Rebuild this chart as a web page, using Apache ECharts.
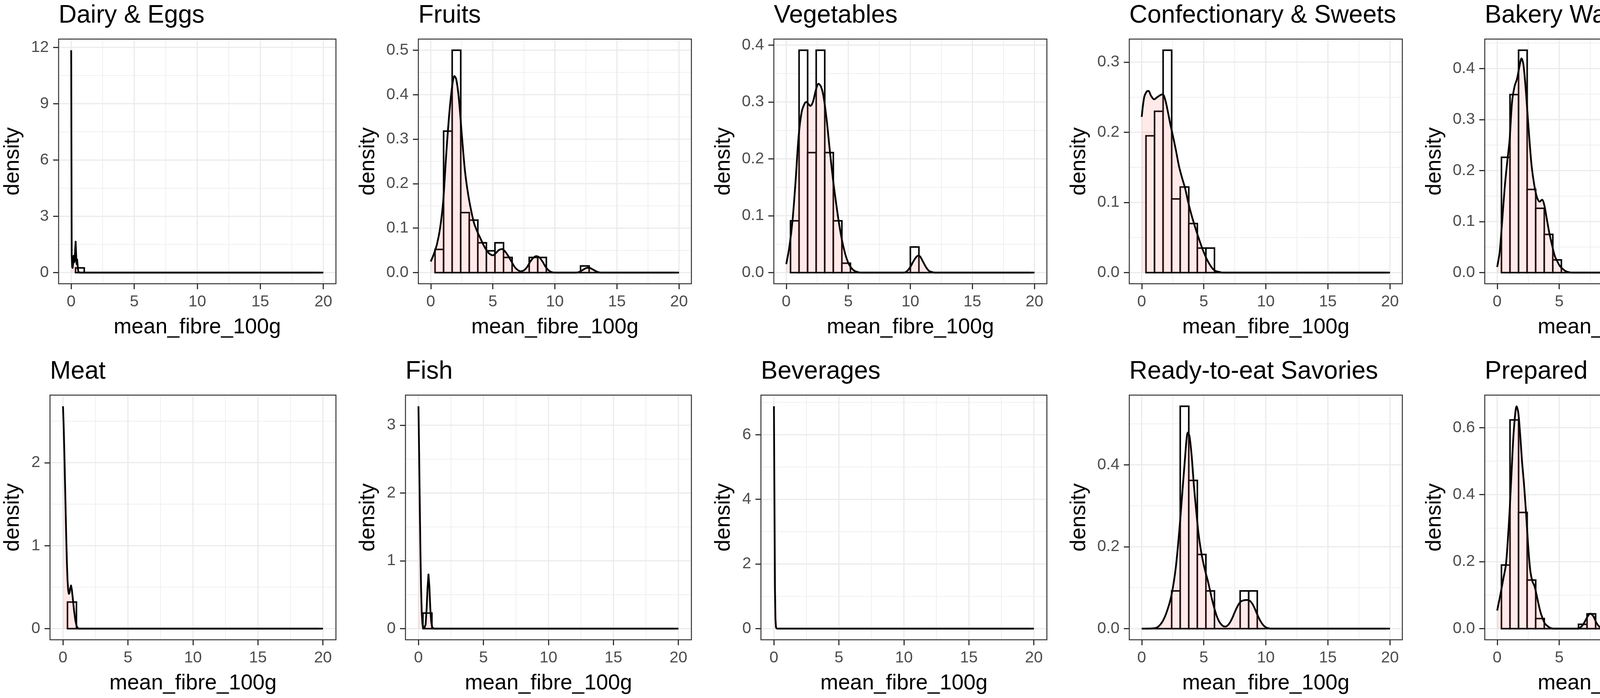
<!DOCTYPE html>
<html>
<head>
<meta charset="utf-8">
<script src="https://cdn.jsdelivr.net/npm/echarts@6/dist/echarts.min.js"></script>
<style>
html,body{margin:0;padding:0;background:#ffffff;}
#c{width:4550px;height:1786px;}
</style>
</head>
<body>
<div id="c"></div>
<script>
// ---------------- DATA ----------------
const panelTitles = ['Dairy & Eggs','Fruits','Vegetables','Confectionary & Sweets','Bakery Wares & Cereals',
                     'Meat','Fish','Beverages','Ready-to-eat Savories','Prepared'];
const xName = 'mean_fibre_100g';
const yName = 'density';
const xTicks = [0, 5, 10, 15, 20];
const xDataRange = [0, 20];
const binWidth = 20 / 29;          // bins centred on k*binWidth, bins k = 1..28 shown

// histogram densities for bins k = 1..28
const dairyBars   = [0.25,0,0,0,0,0,0,0,0,0,0,0,0,0,0,0,0,0,0,0,0,0,0,0,0,0,0,0];
const fruitsBars  = [0.052,0.318,0.5,0.135,0.118,0.067,0.049,0.067,0.034,0,0,0.034,0.034,0,0,0,0,0.015,0,0,0,0,0,0,0,0,0,0];
const vegBars     = [0.091,0.391,0.211,0.391,0.211,0.091,0.0165,0,0,0,0,0,0,0,0.045,0,0,0,0,0,0,0,0,0,0,0,0,0];
const confBars    = [0.195,0.23,0.317,0.105,0.122,0.07,0.035,0.035,0,0,0,0,0,0,0,0,0,0,0,0,0,0,0,0,0,0,0,0];
const bakeryBars  = [0.226,0.349,0.436,0.163,0.126,0.075,0.025,0,0,0,0,0,0.025,0,0,0,0,0.012,0.012,0,0,0,0,0,0,0,0,0];
const meatBars    = [0.32,0,0,0,0,0,0,0,0,0,0,0,0,0,0,0,0,0,0,0,0,0,0,0,0,0,0,0];
const fishBars    = [0.23,0,0,0,0,0,0,0,0,0,0,0,0,0,0,0,0,0,0,0,0,0,0,0,0,0,0,0];
const bevBars     = [0,0,0,0,0,0,0,0,0,0,0,0,0,0,0,0,0,0,0,0,0,0,0,0,0,0,0,0];
const readyBars   = [0,0,0,0.092,0.543,0.362,0.181,0.092,0,0,0,0.092,0.092,0,0,0,0,0,0,0,0,0,0,0,0,0,0,0];
const prepBars    = [0.19,0.623,0.347,0.145,0.03,0,0,0,0,0.013,0.044,0,0,0,0,0,0,0,0,0.013,0,0,0,0,0,0,0,0];

// kernel density curves [x, density]
const dairyDensity = [[0,11.85],[0.039,1.0],[0.078,0.3],[0.117,0.25],[0.156,0.55],[0.195,0.9],[0.235,0.55],[0.274,0.6],
  [0.313,1.2],[0.352,1.65],[0.391,1.0],[0.43,0.45],[0.47,0.7],[0.509,0.4],[0.548,0.12],[0.587,0.03],[0.626,0.005],[0.7,0],[20,0]];
const fruitsDensity = [[0,0.025],[0.25,0.042],[0.5,0.064],[0.75,0.1],[1,0.16],[1.25,0.268],[1.5,0.36],[1.75,0.425],[1.9,0.442],
  [2.05,0.435],[2.25,0.395],[2.5,0.31],[2.75,0.23],[3,0.178],[3.25,0.14],[3.5,0.11],[3.75,0.092],[4,0.077],[4.25,0.062],
  [4.5,0.05],[4.75,0.042],[5,0.039],[5.25,0.044],[5.5,0.051],[5.75,0.053],[6,0.047],[6.25,0.037],[6.5,0.025],[6.75,0.013],
  [7,0.006],[7.25,0.003],[7.5,0.005],[7.75,0.012],[8,0.024],[8.25,0.033],[8.5,0.037],[8.75,0.034],[9,0.025],[9.25,0.013],
  [9.5,0.005],[9.75,0.001],[10,0],[11.75,0],[12,0.002],[12.25,0.006],[12.5,0.01],[12.75,0.011],[13,0.008],[13.25,0.004],
  [13.5,0.001],[13.75,0],[20,0]];
const vegDensity = [[0,0.015],[0.25,0.045],[0.5,0.09],[0.75,0.16],[1,0.24],[1.25,0.283],[1.5,0.298],[1.62,0.3],[1.8,0.296],
  [1.95,0.293],[2.15,0.3],[2.4,0.322],[2.6,0.332],[2.8,0.327],[3,0.31],[3.25,0.27],[3.5,0.217],[3.75,0.167],[4,0.125],
  [4.25,0.087],[4.5,0.056],[4.75,0.033],[5,0.017],[5.25,0.008],[5.5,0.003],[5.75,0.001],[6,0],[9.5,0],[9.75,0.003],
  [10,0.01],[10.25,0.02],[10.5,0.028],[10.65,0.03],[10.8,0.028],[11,0.02],[11.25,0.01],[11.5,0.003],[11.75,0.001],[12,0],[20,0]];
const confDensity = [[0,0.222],[0.2,0.25],[0.4,0.258],[0.55,0.259],[0.75,0.252],[1,0.247],[1.25,0.25],[1.5,0.253],[1.7,0.254],
  [1.9,0.246],[2.1,0.23],[2.3,0.212],[2.5,0.196],[2.75,0.175],[3,0.152],[3.25,0.135],[3.5,0.12],[3.75,0.1],[4,0.083],
  [4.25,0.068],[4.5,0.054],[4.75,0.041],[5,0.029],[5.25,0.019],[5.5,0.011],[5.75,0.005],[6,0.002],[6.25,0.001],[6.5,0],[20,0]];
const bakeryDensity = [[0,0.011],[0.2,0.04],[0.4,0.1],[0.6,0.165],[0.8,0.215],[1,0.26],[1.2,0.335],[1.4,0.365],[1.6,0.38],
  [1.8,0.405],[1.96,0.42],[2.1,0.41],[2.25,0.375],[2.42,0.32],[2.6,0.26],[2.78,0.208],[3,0.17],[3.2,0.148],[3.42,0.139],
  [3.62,0.143],[3.8,0.132],[4,0.105],[4.2,0.078],[4.42,0.054],[4.65,0.032],[4.87,0.021],[5.05,0.013],[5.25,0.008],
  [5.5,0.003],[5.75,0.001],[6,0],[8.5,0],[8.75,0.007],[9,0.017],[9.2,0.021],[9.45,0.014],[9.7,0.005],[10,0.001],[10.25,0],
  [11.5,0],[11.75,0.002],[12,0.006],[12.3,0.01],[12.7,0.009],[13.1,0.01],[13.4,0.006],[13.7,0.002],[14,0],[20,0]];
const meatDensity = [[0,2.68],[0.05,2.45],[0.1,2.15],[0.15,1.8],[0.2,1.45],[0.25,1.1],[0.3,0.8],[0.35,0.58],[0.4,0.46],
  [0.45,0.42],[0.5,0.43],[0.56,0.49],[0.62,0.52],[0.68,0.47],[0.75,0.37],[0.85,0.22],[0.95,0.1],[1.05,0.03],[1.15,0.005],
  [1.25,0],[20,0]];
const fishDensity = [[0,3.28],[0.05,2.6],[0.1,1.85],[0.15,1.15],[0.2,0.6],[0.25,0.25],[0.3,0.08],[0.35,0.02],[0.45,0.01],
  [0.55,0.06],[0.63,0.3],[0.7,0.6],[0.77,0.8],[0.84,0.62],[0.91,0.3],[0.98,0.1],[1.05,0.025],[1.15,0.004],[1.25,0],[20,0]];
const bevDensity = [[0,6.88],[0.039,4.0],[0.078,1.3],[0.117,0.3],[0.156,0.05],[0.2,0.005],[0.25,0],[20,0]];
const readyDensity = [[0,0],[1,0.001],[1.3,0.004],[1.67,0.017],[2.03,0.042],[2.4,0.082],[2.76,0.153],[3.12,0.272],[3.48,0.413],
  [3.72,0.479],[3.85,0.47],[4.03,0.42],[4.21,0.348],[4.4,0.285],[4.57,0.234],[4.75,0.195],[4.94,0.164],[5.12,0.14],[5.3,0.12],
  [5.48,0.097],[5.66,0.072],[5.85,0.05],[6.03,0.032],[6.21,0.019],[6.39,0.011],[6.57,0.006],[6.75,0.005],[6.93,0.008],
  [7.11,0.015],[7.3,0.026],[7.48,0.039],[7.66,0.051],[7.84,0.061],[8.02,0.067],[8.2,0.069],[8.4,0.07],[8.57,0.07],
  [8.75,0.067],[8.93,0.06],[9.11,0.049],[9.29,0.036],[9.47,0.024],[9.66,0.014],[9.84,0.007],[10.02,0.003],[10.2,0.001],
  [10.5,0],[20,0]];
const prepDensity = [[0,0.054],[0.25,0.1],[0.5,0.15],[0.7,0.19],[0.85,0.26],[1,0.35],[1.15,0.46],[1.3,0.57],[1.45,0.64],
  [1.56,0.664],[1.7,0.645],[1.87,0.57],[2,0.5],[2.15,0.437],[2.3,0.36],[2.42,0.292],[2.55,0.22],[2.69,0.167],[2.85,0.14],
  [3,0.128],[3.15,0.105],[3.33,0.074],[3.5,0.048],[3.69,0.028],[3.85,0.015],[4.05,0.008],[4.3,0.002],[4.6,0],[6.5,0],
  [6.75,0.005],[7,0.017],[7.25,0.034],[7.5,0.045],[7.75,0.037],[8,0.017],[8.25,0.005],[8.5,0.001],[8.75,0],[13.25,0],
  [13.5,0.002],[13.75,0.007],[14,0.012],[14.2,0.012],[14.45,0.006],[14.7,0.002],[15,0],[20,0]];

// y tick values per panel
const dairyTicks  = [0, 3, 6, 9, 12];
const fruitsTicks = [0, 0.1, 0.2, 0.3, 0.4, 0.5];
const vegTicks    = [0, 0.1, 0.2, 0.3, 0.4];
const confTicks   = [0, 0.1, 0.2, 0.3];
const bakeryTicks = [0, 0.1, 0.2, 0.3, 0.4];
const meatTicks   = [0, 1, 2];
const fishTicks   = [0, 1, 2, 3];
const bevTicks    = [0, 2, 4, 6];
const readyTicks  = [0, 0.2, 0.4];
const prepTicks   = [0, 0.2, 0.4, 0.6];
const tickDecimals = [0, 1, 1, 1, 1, 0, 0, 0, 1, 1];

const allBars    = [dairyBars, fruitsBars, vegBars, confBars, bakeryBars, meatBars, fishBars, bevBars, readyBars, prepBars];
const allDensity = [dairyDensity, fruitsDensity, vegDensity, confDensity, bakeryDensity, meatDensity, fishDensity, bevDensity, readyDensity, prepDensity];
const allTicks   = [dairyTicks, fruitsTicks, vegTicks, confTicks, bakeryTicks, meatTicks, fishTicks, bevTicks, readyTicks, prepTicks];

// ---------------- LAYOUT / STYLE ----------------
const FONT = "'Liberation Sans', Arial, Helvetica, sans-serif";
const COL_W = 910;
const ROW_TOP = [100, 1011];
const PANEL_H = 626;
const RIGHT_OFF = 860;
const TITLE_TOP = [8, 919];
const LEFT_BY_CHARS = {1: 128, 2: 150, 3: 161};
const SPIKY = [true, false, false, false, false, true, true, true, false, false];

const GRID_COL = '#EBEBEB';
const DARK = '#333333';

function expand(lo, hi) { const d = (hi - lo) * 0.05; return [lo - d, hi + d]; }
function minorBreaks(majors, lo, hi) {
  let b = majors.slice();
  const bd = b[1] - b[0];
  if (lo < b[0]) b.unshift(b[0] - bd);
  if (hi > b[b.length - 1]) b.push(b[b.length - 1] + bd);
  const out = [];
  for (let i = 0; i < b.length - 1; i++) {
    const m = (b[i] + b[i + 1]) / 2;
    if (m >= lo && m <= hi) out.push(m);
  }
  return out;
}

const [X_MIN, X_MAX] = expand(xDataRange[0], xDataRange[1]);
const xMinor = minorBreaks(xTicks, X_MIN, X_MAX);

const grids = [], xAxes = [], yAxes = [], series = [], titles = [];

panelTitles.forEach((title, i) => {
  const row = Math.floor(i / 5), col = i % 5;
  const ticks = allTicks[i];
  const dec = tickDecimals[i];
  const labels = ticks.map(v => v.toFixed(dec));
  const chars = Math.max(...labels.map(s => s.length));
  const leftOff = LEFT_BY_CHARS[chars];
  const left = col * COL_W + leftOff;
  const width = RIGHT_OFF - leftOff;
  const top = ROW_TOP[row];

  const bars = allBars[i], dens = allDensity[i];
  const M = Math.max(Math.max(...bars), Math.max(...dens.map(d => d[1])));
  const [yMin, yMax] = expand(0, M);
  const yMinor = minorBreaks(ticks, yMin, yMax);

  grids.push({left: left, top: top, width: width, height: PANEL_H, containLabel: false, show: false});
  titles.push({text: title, left: left, top: TITLE_TOP[row], padding: 0,
    textStyle: {fontSize: 64, fontWeight: 'normal', color: '#000000', fontFamily: FONT}});

  xAxes.push({
    type: 'value', gridIndex: i, min: X_MIN, max: X_MAX, position: 'bottom',
    name: xName, nameLocation: 'middle', nameGap: 84,
    nameTextStyle: {fontSize: 55, color: '#000000', fontFamily: FONT},
    axisLine: {show: false, onZero: false},
    axisTick: {show: true, length: 14, customValues: xTicks, lineStyle: {color: DARK, width: 3}},
    axisLabel: {show: true, customValues: xTicks, margin: 26, fontSize: 41, color: '#4D4D4D', fontFamily: FONT,
      formatter: v => String(Math.round(v))},
    splitLine: {show: false}, minorSplitLine: {show: false}
  });
  yAxes.push({
    type: 'value', gridIndex: i, min: yMin, max: yMax, position: 'left',
    name: yName, nameLocation: 'middle', nameGap: leftOff - 60,
    nameTextStyle: {fontSize: 55, color: '#000000', fontFamily: FONT},
    axisLine: {show: false, onZero: false},
    axisTick: {show: true, length: 14, customValues: ticks, lineStyle: {color: DARK, width: 3}},
    axisLabel: {show: true, customValues: ticks, margin: 25, fontSize: 41, color: '#4D4D4D', fontFamily: FONT,
      formatter: v => v.toFixed(dec)},
    splitLine: {show: false}, minorSplitLine: {show: false}
  });

  // grid lines
  const lines = [];
  yMinor.forEach(v => lines.push({o: 'h', v: v, minor: true}));
  xMinor.forEach(v => lines.push({o: 'v', v: v, minor: true}));
  ticks.forEach(v => lines.push({o: 'h', v: v, minor: false}));
  xTicks.forEach(v => lines.push({o: 'v', v: v, minor: false}));
  series.push({
    type: 'custom', xAxisIndex: i, yAxisIndex: i, silent: true, z: 1,
    data: lines.map((l, j) => [j, 0]),
    renderItem: (params, api) => {
      const l = lines[params.dataIndex];
      let p0, p1;
      if (l.o === 'h') { p0 = api.coord([X_MIN, l.v]); p1 = api.coord([X_MAX, l.v]); }
      else { p0 = api.coord([l.v, yMin]); p1 = api.coord([l.v, yMax]); }
      return {type: 'line', shape: {x1: p0[0], y1: p0[1], x2: p1[0], y2: p1[1]},
        style: {stroke: GRID_COL, lineWidth: l.minor ? 1.5 : 3}};
    }
  });

  // histogram
  series.push({
    type: 'custom', xAxisIndex: i, yAxisIndex: i, silent: true, z: 2,
    data: bars.map((h, j) => [j + 1, h]),
    renderItem: (params, api) => {
      const k = api.value(0), h = api.value(1);
      const a = api.coord([(k - 0.5) * binWidth, h]);
      const b = api.coord([(k + 0.5) * binWidth, 0]);
      return {type: 'rect', shape: {x: a[0], y: a[1], width: b[0] - a[0], height: b[1] - a[1]},
        style: {fill: '#ffffff', stroke: '#000000', lineWidth: 4}};
    }
  });

  // density
  series.push({
    type: 'line', xAxisIndex: i, yAxisIndex: i, z: 3, silent: true,
    data: dens, showSymbol: false, symbol: 'none', smooth: SPIKY[i] ? false : 0.3,
    lineStyle: {color: '#000000', width: 4.5, join: 'round'},
    areaStyle: {color: 'rgba(255,102,102,0.2)', origin: 'auto'}
  });

  // panel border
  series.push({
    type: 'custom', xAxisIndex: i, yAxisIndex: i, silent: true, z: 4,
    data: [[0, 0]],
    renderItem: (params, api) => {
      const a = api.coord([X_MIN, yMax]);
      const b = api.coord([X_MAX, yMin]);
      return {type: 'rect', shape: {x: a[0], y: a[1], width: b[0] - a[0], height: b[1] - a[1]},
        style: {fill: 'none', stroke: DARK, lineWidth: 2.5}};
    }
  });
});

const chart = echarts.init(document.getElementById('c'), null, {renderer: 'canvas', width: 4550, height: 1786});
chart.setOption({
  animation: false,
  backgroundColor: '#ffffff',
  title: titles,
  grid: grids,
  xAxis: xAxes,
  yAxis: yAxes,
  series: series
});
</script>
</body>
</html>
